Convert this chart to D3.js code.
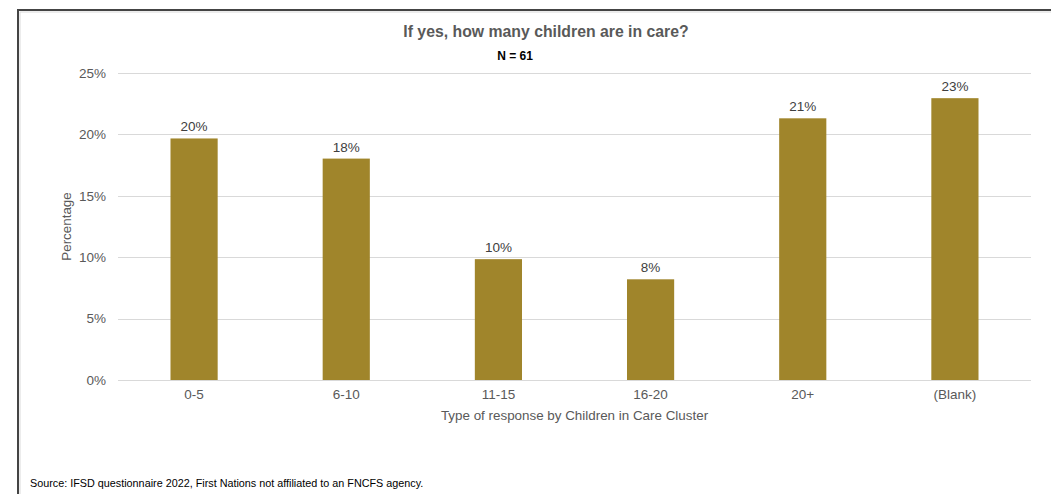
<!DOCTYPE html>
<html>
<head>
<meta charset="utf-8">
<script src="https://cdn.jsdelivr.net/npm/d3@7"></script>
<style>
  html, body { margin: 0; padding: 0; background: #ffffff; }
  svg { display: block; font-family: "Liberation Sans", Arial, sans-serif; }
</style>
</head>
<body>
<svg id="chart" width="1051" height="494"></svg>
<script>
const categories = ["0-5", "6-10", "11-15", "16-20", "20+", "(Blank)"];
const values = [19.67, 18.03, 9.84, 8.20, 21.31, 22.95];
const valueLabels = ["20%", "18%", "10%", "8%", "21%", "23%"];
const yTicks = [0, 5, 10, 15, 20, 25];

const title = "If yes, how many children are in care?";
const subtitle = "N = 61";
const xTitle = "Type of response by Children in Care Cluster";
const yTitle = "Percentage";
const source = "Source: IFSD questionnaire 2022, First Nations not affiliated to an FNCFS agency.";

(function () {
const svg = d3.select("#chart");
const pLeft = 118, pRight = 1031, pTop = 73, pBottom = 380;
const FF = "'Liberation Sans', Arial, sans-serif";

// frame
svg.append("rect").attr("x", 18).attr("y", 10).attr("width", 1100).attr("height", 600)
  .attr("fill", "none").attr("stroke", "#444").attr("stroke-width", 2);
svg.append("rect").attr("x", 20).attr("y", 12).attr("width", 1100).attr("height", 600)
  .attr("fill", "none").attr("stroke", "#d9d9d9").attr("stroke-width", 1);

const x = d3.scaleBand().domain(categories).range([pLeft, pRight]).paddingInner(0.69).paddingOuter(0.345);
const y = d3.scaleLinear().domain([0, 25]).range([pBottom, pTop]);

// gridlines
svg.append("g").selectAll("line").data(yTicks).join("line")
  .attr("x1", pLeft).attr("x2", pRight)
  .attr("y1", d => Math.round(y(d)) + 0.5).attr("y2", d => Math.round(y(d)) + 0.5)
  .attr("stroke", "#d9d9d9").attr("stroke-width", 1);

// y axis labels
const yAxis = d3.axisLeft(y).tickValues(yTicks).tickFormat(d => d + "%").tickSize(0).tickPadding(0);
const ya = svg.append("g").attr("transform", `translate(${pLeft - 12},0)`).call(yAxis);
ya.select(".domain").remove();
ya.selectAll("text").attr("fill", "#595959").attr("font-size", "13.5px").attr("font-family", FF);

// bars
svg.append("g").selectAll("rect").data(values).join("rect")
  .attr("x", (d, i) => x(categories[i]))
  .attr("width", x.bandwidth())
  .attr("y", d => y(d))
  .attr("height", d => y(0) - y(d))
  .attr("fill", "#A0852B");

// value labels
svg.append("g").selectAll("text").data(values).join("text")
  .attr("x", (d, i) => x(categories[i]) + x.bandwidth() / 2)
  .attr("y", d => y(d) - 7)
  .attr("text-anchor", "middle")
  .attr("font-size", "13.5px").attr("font-family", FF).attr("fill", "#404040")
  .text((d, i) => valueLabels[i]);

// x axis labels
const xAxis = d3.axisBottom(x).tickSize(0).tickPadding(0);
const xa = svg.append("g").attr("transform", `translate(0,${pBottom + 9})`).call(xAxis);
xa.select(".domain").remove();
xa.selectAll("text").attr("fill", "#595959").attr("font-size", "13.5px").attr("font-family", FF);

// titles
svg.append("text").attr("x", 546).attr("y", 37).attr("text-anchor", "middle").attr("font-family", FF)
  .attr("font-size", "15.8px").attr("font-weight", "bold").attr("fill", "#595959").text(title);
svg.append("text").attr("x", 515).attr("y", 60).attr("text-anchor", "middle").attr("font-family", FF)
  .attr("font-size", "12px").attr("font-weight", "bold").attr("fill", "#000").text(subtitle);
svg.append("text").attr("x", (pLeft + pRight) / 2).attr("y", 420).attr("text-anchor", "middle").attr("font-family", FF)
  .attr("font-size", "13.4px").attr("fill", "#595959").text(xTitle);
svg.append("text").attr("transform", `translate(71,${(pTop + pBottom) / 2}) rotate(-90)`).attr("font-family", FF)
  .attr("text-anchor", "middle").attr("font-size", "13.4px").attr("fill", "#595959").text(yTitle);
svg.append("text").attr("x", 30).attr("y", 487).attr("font-size", "10.8px").attr("font-family", FF).attr("fill", "#000").text(source);
})();
</script>
</body>
</html>
